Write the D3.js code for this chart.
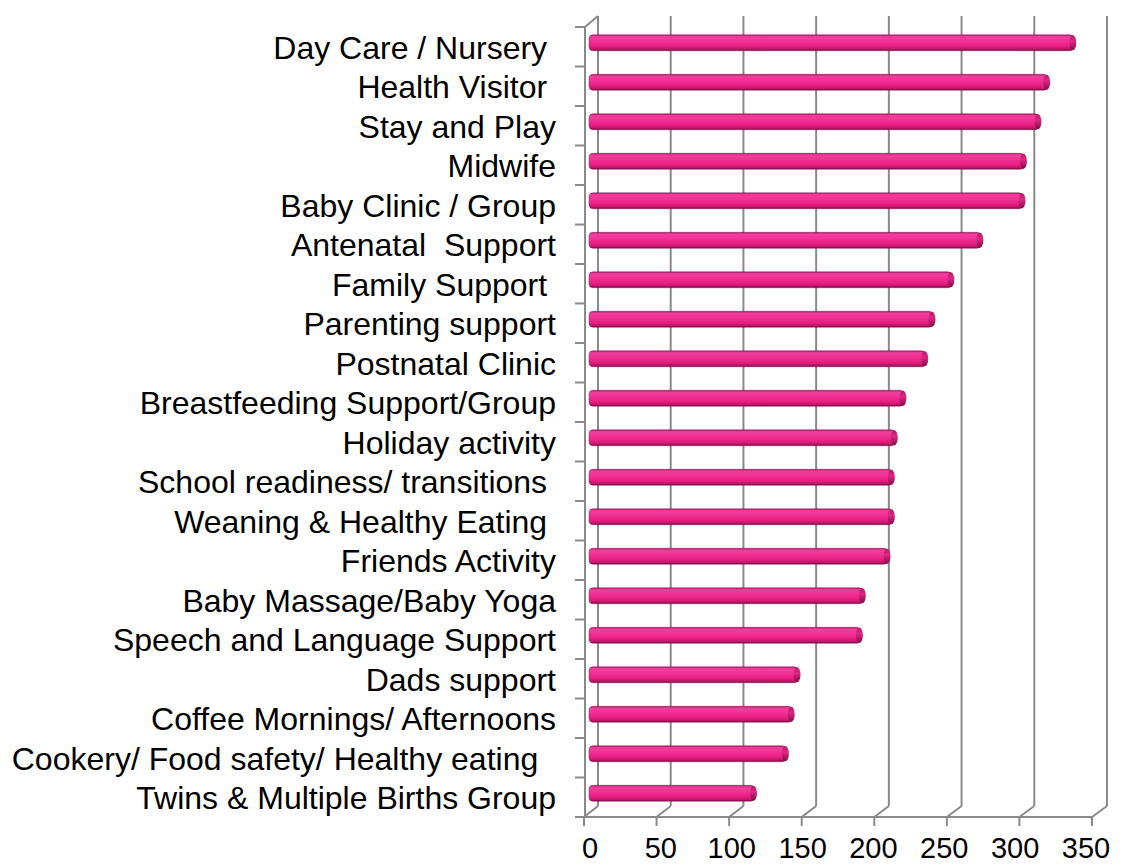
<!DOCTYPE html>
<html>
<head>
<meta charset="utf-8">
<script src="https://cdn.jsdelivr.net/npm/d3@7"></script>
<style>
  body { margin: 0; background: #fff; }
  text { font-family: "Liberation Sans", Arial, sans-serif; fill: #000; white-space: pre; }
</style>
</head>
<body>
<div id="chart"></div>
<script>
// survey answers, top to bottom
var categories = [
  "Day Care / Nursery ",
  "Health Visitor ",
  "Stay and Play",
  "Midwife",
  "Baby Clinic / Group",
  "Antenatal  Support",
  "Family Support ",
  "Parenting support",
  "Postnatal Clinic",
  "Breastfeeding Support/Group",
  "Holiday activity",
  "School readiness/ transitions ",
  "Weaning & Healthy Eating ",
  "Friends Activity",
  "Baby Massage/Baby Yoga",
  "Speech and Language Support",
  "Dads support",
  "Coffee Mornings/ Afternoons",
  "Cookery/ Food safety/ Healthy eating  ",
  "Twins & Multiple Births Group"
];
var values = [334, 316, 310, 300, 299, 270, 250, 237, 232, 217, 211, 209, 209, 206, 189, 187, 144, 140, 136, 114];
var xTicks = [0, 50, 100, 150, 200, 250, 300, 350];

var width = 1122, height = 865;
var gridColor = "#8a8a8a";

var svg = d3.select("#chart").append("svg")
    .attr("width", width)
    .attr("height", height);

// front (floor edge), back wall and bar-plane scales
var xFront = d3.scaleLinear().domain([0, 350]).range([584, 1092]);
var xBack = d3.scaleLinear().domain([0, 350]).range([598, 1107]);
var xBar = d3.scaleLinear().domain([0, 350]).range([589, 1097]);
var xLabel = d3.scaleLinear().domain([0, 350]).range([590, 1086]);

var y = d3.scaleBand().domain(d3.range(categories.length)).range([27, 817]);
var floorY = 817, backFloorY = floorY - 11, topY = 16;

var defs = svg.append("defs");
var grad = defs.append("linearGradient")
    .attr("id", "cyl")
    .attr("x1", 0).attr("y1", 0).attr("x2", 0).attr("y2", 1);
[["0%", "#a8145f"], ["12%", "#ee3f9c"], ["35%", "#f23496"], ["70%", "#e81f82"], ["88%", "#c6176e"], ["100%", "#700a3c"]]
  .forEach(function(s) { grad.append("stop").attr("offset", s[0]).attr("stop-color", s[1]); });

var capGrad = defs.append("linearGradient")
    .attr("id", "cap")
    .attr("x1", 0).attr("y1", 0).attr("x2", 0).attr("y2", 1);
[["0%", "#b8186a"], ["40%", "#dc2884"], ["100%", "#800c46"]]
  .forEach(function(s) { capGrad.append("stop").attr("offset", s[0]).attr("stop-color", s[1]); });

var grid = svg.append("g").attr("stroke", gridColor).attr("stroke-width", 2).attr("fill", "none");

// back wall verticals
grid.selectAll(".vgrid")
    .data(xTicks)
    .enter().append("line")
    .attr("x1", d => xBack(d)).attr("x2", d => xBack(d))
    .attr("y1", topY).attr("y2", backFloorY);

// floor diagonals
grid.selectAll(".diag")
    .data(xTicks)
    .enter().append("line")
    .attr("x1", d => xFront(d)).attr("y1", floorY)
    .attr("x2", d => xBack(d)).attr("y2", backFloorY);

// front floor edge and ticks
grid.append("line")
    .attr("x1", xFront(0) - 1).attr("x2", xFront(350) + 1)
    .attr("y1", floorY).attr("y2", floorY);
grid.selectAll(".xtick")
    .data(xTicks)
    .enter().append("line")
    .attr("x1", d => xFront(d)).attr("x2", d => xFront(d))
    .attr("y1", floorY).attr("y2", floorY + 9);

// left wall
var leftX = xFront(0) + 1;
grid.append("line")
    .attr("x1", leftX).attr("x2", leftX)
    .attr("y1", y.range()[0]).attr("y2", floorY);
grid.append("line")
    .attr("x1", leftX).attr("y1", y.range()[0])
    .attr("x2", xBack(0)).attr("y2", topY);
grid.selectAll(".ytick")
    .data(d3.range(categories.length + 1))
    .enter().append("line")
    .attr("x1", leftX - 10).attr("x2", leftX)
    .attr("y1", i => y.range()[0] + i * y.step())
    .attr("y2", i => y.range()[0] + i * y.step());

// cylinder bars
var barH = 16;
var bars = svg.selectAll(".bar")
    .data(values)
    .enter().append("g")
    .attr("class", "bar")
    .attr("transform", (d, i) => "translate(0," + (y(i) + y.bandwidth() / 2 - 4) + ")");

bars.append("rect")
    .attr("x", xBar(0))
    .attr("y", -barH / 2)
    .attr("width", d => xBar(d) - xBar(0))
    .attr("height", barH)
    .attr("rx", 4)
    .attr("fill", "url(#cyl)")
    .attr("stroke", "#8c1050")
    .attr("stroke-opacity", 0.5)
    .attr("stroke-width", 0.8);

bars.append("ellipse")
    .attr("cx", d => xBar(d) - 1)
    .attr("cy", 0)
    .attr("rx", 3.5)
    .attr("ry", barH / 2 - 0.5)
    .attr("fill", "url(#cap)");

// category labels
svg.selectAll(".label")
    .data(categories)
    .enter().append("text")
    .attr("class", "label")
    .attr("x", 556)
    .attr("y", (d, i) => y(i) + y.bandwidth() / 2 + 1)
    .attr("dy", "0.35em")
    .attr("text-anchor", "end")
    .style("font-size", "32px")
    .text(d => d);

// value axis labels
svg.selectAll(".xlabel")
    .data(xTicks)
    .enter().append("text")
    .attr("class", "xlabel")
    .attr("x", d => xLabel(d))
    .attr("y", 858)
    .attr("text-anchor", "middle")
    .style("font-size", "29px")
    .text(d => d);
</script>
</body>
</html>
